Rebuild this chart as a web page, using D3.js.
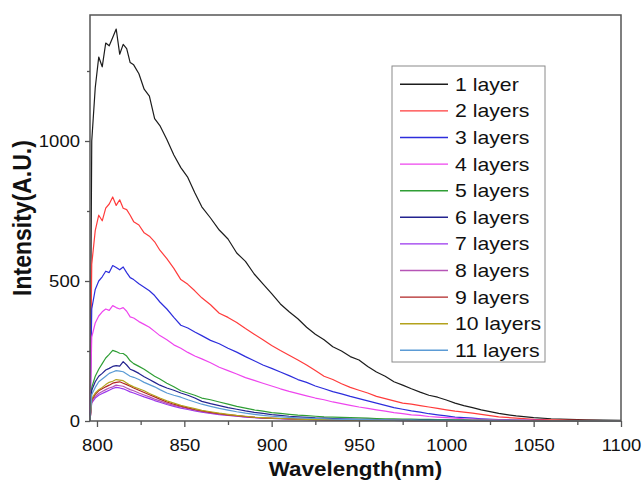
<!DOCTYPE html>
<html>
<head>
<meta charset="utf-8">
<script src="https://cdn.jsdelivr.net/npm/d3@7"></script>
<style>
body { margin: 0; background: #fff; }
svg text { font-family: "Liberation Sans", Arial, sans-serif; fill: #111; }
</style>
</head>
<body>
<div id="chart"></div>
<script>
// PL spectra per number of layers

var wavelengths = [796, 797, 799, 801, 803, 805, 807, 809, 811, 813, 815, 817, 819, 821, 824, 827, 830, 833, 836,
    840, 844, 848, 852, 856, 860, 865, 870, 875, 880, 885, 890, 895, 900, 905, 910, 915, 920, 925, 930, 935,
    940, 945, 950, 955, 960, 965, 970, 975, 980, 985, 990, 995, 1000, 1005, 1010, 1015, 1020, 1030, 1040,
    1050, 1060, 1070, 1080, 1090, 1100];

var layer1 = [0, 1000, 1190, 1300, 1265, 1350, 1340, 1370, 1400, 1310, 1345, 1330, 1280, 1272, 1240, 1185, 1160, 1080, 1055,
    1005, 950, 905, 870, 815, 765, 725, 682, 650, 600, 570, 525, 490, 455, 418, 390, 365, 335, 310, 290, 265,
    250, 230, 218, 195, 175, 160, 140, 128, 115, 103, 92, 85, 75, 64, 55, 48, 40, 27, 18,
    12, 8, 6, 4, 3, 2];
var layer2 = [0, 560, 680, 735, 715, 760, 775, 800, 770, 790, 760, 755, 735, 712, 700, 672, 660, 640, 610,
    580, 545, 505, 488, 465, 440, 415, 385, 370, 352, 330, 310, 290, 270, 252, 235, 218, 200, 180, 160, 148,
    133, 120, 110, 100, 88, 80, 72, 64, 60, 55, 50, 45, 40, 35, 32, 28, 24, 15, 10,
    6, 4, 3, 2, 1, 1];
var layer3 = [0, 400, 470, 500, 515, 535, 530, 555, 548, 540, 550, 530, 512, 505, 490, 478, 465, 448, 425,
    400, 370, 342, 332, 318, 305, 288, 276, 260, 246, 230, 215, 200, 188, 175, 162, 148, 138, 125, 115, 105,
    97, 88, 80, 72, 64, 56, 48, 42, 36, 32, 26, 22, 18, 14, 12, 10, 8, 5, 3,
    2, 1, 1, 1, 0, 0];
var layer4 = [0, 300, 350, 375, 390, 400, 395, 412, 405, 400, 405, 392, 372, 368, 355, 345, 335, 320, 305,
    290, 272, 260, 245, 232, 222, 208, 192, 180, 168, 155, 145, 135, 125, 115, 106, 98, 90, 82, 76, 68,
    62, 56, 50, 45, 40, 35, 30, 26, 22, 20, 16, 14, 12, 10, 8, 7, 6, 4, 3,
    2, 1, 1, 1, 0, 0];
var layer5 = [0, 120, 160, 185, 205, 225, 238, 252, 248, 242, 241, 232, 215, 205, 195, 185, 172, 160, 150,
    135, 122, 108, 100, 92, 82, 76, 68, 60, 52, 46, 40, 35, 30, 27, 24, 21, 19, 17, 15, 14,
    13, 12, 11, 10, 9, 8, 8, 7, 7, 6, 6, 5, 5, 4, 4, 3, 3, 2, 2,
    1, 1, 1, 1, 0, 0];
var layer6 = [0, 110, 140, 160, 170, 182, 188, 195, 198, 196, 212, 200, 185, 180, 170, 158, 148, 138, 128,
    118, 110, 100, 92, 82, 70, 62, 55, 48, 42, 36, 31, 27, 23, 20, 17, 15, 13, 11, 10, 9,
    8, 7, 6, 6, 5, 5, 4, 4, 3, 3, 3, 2, 2, 2, 2, 1, 1, 1, 1,
    0, 0, 0, 0, 0, 0];
var layer7 = [0, 65, 82, 92, 98, 104, 110, 116, 120, 118, 115, 110, 104, 100, 93, 86, 80, 73, 67,
    59, 52, 46, 41, 36, 32, 27, 23, 20, 17, 14, 12, 10, 9, 8, 7, 6, 5, 5, 4, 4,
    3, 3, 3, 2, 2, 2, 2, 1, 1, 1, 1, 1, 1, 1, 0, 0, 0, 0, 0,
    0, 0, 0, 0, 0, 0];
var layer8 = [0, 70, 88, 98, 105, 112, 118, 122, 128, 126, 124, 118, 112, 108, 100, 93, 86, 78, 72,
    63, 56, 50, 44, 39, 34, 29, 25, 21, 18, 15, 13, 11, 9, 8, 7, 6, 6, 5, 4, 4,
    3, 3, 3, 2, 2, 2, 2, 1, 1, 1, 1, 1, 1, 1, 0, 0, 0, 0, 0,
    0, 0, 0, 0, 0, 0];
var layer9 = [0, 75, 95, 108, 115, 122, 128, 135, 138, 140, 135, 130, 124, 118, 110, 102, 94, 86, 78,
    68, 60, 53, 47, 41, 36, 31, 26, 22, 19, 16, 13, 11, 10, 9, 8, 7, 6, 5, 5, 4,
    4, 3, 3, 3, 2, 2, 2, 2, 1, 1, 1, 1, 1, 1, 1, 0, 0, 0, 0,
    0, 0, 0, 0, 0, 0];
var layer10 = [0, 80, 100, 112, 120, 130, 138, 142, 148, 146, 144, 136, 128, 122, 115, 108, 98, 90, 82,
    72, 64, 56, 50, 44, 38, 33, 28, 24, 20, 17, 14, 12, 10, 9, 8, 7, 6, 5, 5, 4,
    4, 3, 3, 3, 2, 2, 2, 2, 1, 1, 1, 1, 1, 1, 1, 0, 0, 0, 0,
    0, 0, 0, 0, 0, 0];
var layer11 = [0, 95, 120, 140, 150, 160, 170, 175, 180, 178, 176, 168, 160, 156, 148, 138, 130, 122, 112,
    100, 92, 85, 76, 68, 60, 52, 45, 39, 33, 28, 24, 20, 17, 15, 13, 11, 10, 9, 8, 7,
    6, 6, 5, 5, 4, 4, 3, 3, 3, 2, 2, 2, 2, 1, 1, 1, 1, 1, 0,
    0, 0, 0, 0, 0, 0];

var seriesNames = ["1 layer", "2 layers", "3 layers", "4 layers", "5 layers", "6 layers",
    "7 layers", "8 layers", "9 layers", "10 layers", "11 layers"];
var seriesValues = [layer1, layer2, layer3, layer4, layer5, layer6, layer7, layer8, layer9, layer10, layer11];
var seriesColors = ["#1c1c1c", "#ff3b3b", "#2d2ddc", "#ee45ee", "#2f9e35", "#23238f",
    "#9a35ee", "#b655b6", "#b02424", "#b3a21c", "#5b9bd5"];

var xTicks = [800, 850, 900, 950, 1000, 1050, 1100];
var xMinorTicks = [825, 875, 925, 975, 1025, 1075];
var yTicks = [0, 500, 1000];
var yMinorTicks = [250, 750, 1250];

var width = 643, height = 481;
var plot = {left: 90, right: 621, top: 15, bottom: 421};
var frameColor = "#555";

var svg = d3.select("#chart")
    .append("svg")
    .attr("width", width)
    .attr("height", height);

var x = d3.scaleLinear()
    .domain([796, 1100])
    .range([plot.left, plot.right]);

var y = d3.scaleLinear()
    .domain([0, 1450])
    .range([plot.bottom, plot.top]);

// curves, 1 layer drawn first
var line = d3.line()
    .x(function(d) { return x(d[0]); })
    .y(function(d) { return y(d[1]); });

var curves = svg.append("g")
    .attr("class", "curves");

seriesValues.forEach(function(vals, i) {
    var pts = wavelengths.map(function(w, j) { return [w, vals[j]]; });
    curves.append("path")
        .datum(pts)
        .attr("fill", "none")
        .attr("stroke", seriesColors[i])
        .attr("stroke-width", 1.2)
        .attr("stroke-linejoin", "round")
        .attr("d", line);
});

// frame
svg.append("rect")
    .attr("x", plot.left)
    .attr("y", plot.top)
    .attr("width", plot.right - plot.left)
    .attr("height", plot.bottom - plot.top)
    .attr("fill", "none")
    .attr("stroke", frameColor)
    .attr("stroke-width", 1.5);

var fmt = d3.format("d");

// x axis
var xAxis = svg.append("g")
    .attr("transform", "translate(0," + plot.bottom + ")")
    .call(d3.axisBottom(x).tickValues(xTicks).tickSize(6).tickPadding(12).tickFormat(fmt));
var xMinor = svg.append("g")
    .attr("transform", "translate(0," + plot.bottom + ")")
    .call(d3.axisBottom(x).tickValues(xMinorTicks).tickSize(4).tickFormat(""));

// y axis
var yAxis = svg.append("g")
    .attr("transform", "translate(" + plot.left + ",0)")
    .call(d3.axisLeft(y).tickValues(yTicks).tickSize(5).tickPadding(4).tickFormat(fmt));
var yMinor = svg.append("g")
    .attr("transform", "translate(" + plot.left + ",0)")
    .call(d3.axisLeft(y).tickValues(yMinorTicks).tickSize(3).tickFormat(""));

[xAxis, xMinor, yAxis, yMinor].forEach(function(g) {
    g.select(".domain").remove();
    g.selectAll(".tick line").attr("stroke", frameColor).attr("stroke-width", 1.3);
    g.selectAll(".tick text")
        .attr("fill", "#111")
        .style("font-family", "'Liberation Sans', Arial, sans-serif")
        .style("font-size", "16.5px")
        .attr("transform", "scale(1.12,1)");
});

// axis titles
svg.append("text")
    .attr("transform", "translate(" + ((plot.left + plot.right) / 2) + ",476) scale(1.15,1)")
    .attr("text-anchor", "middle")
    .style("font-size", "19.5px")
    .style("font-weight", "bold")
    .text("Wavelength(nm)");

svg.append("text")
    .attr("transform", "translate(31," + ((plot.top + plot.bottom) / 2) + ") rotate(-90) scale(1,1.15)")
    .attr("text-anchor", "middle")
    .style("font-size", "23px")
    .style("font-weight", "bold")
    .text("Intensity(A.U.)");

// legend
var legend = svg.append("g")
    .attr("class", "legend");

legend.append("rect")
    .attr("x", 392)
    .attr("y", 66)
    .attr("width", 153)
    .attr("height", 296)
    .attr("fill", "#fff")
    .attr("stroke", "#8a8a8a")
    .attr("stroke-width", 1);

var rowH = 26.6;
var rows = legend.selectAll(".row")
    .data(seriesNames)
    .enter()
    .append("g")
    .attr("class", "row")
    .attr("transform", function(d, i) {
        return "translate(0," + (84.3 + i * rowH) + ")";
    });

rows.append("line")
    .attr("x1", 400)
    .attr("x2", 448)
    .attr("stroke", function(d, i) { return seriesColors[i]; })
    .attr("stroke-width", 1.4);

rows.append("text")
    .attr("transform", "translate(455,6.5) scale(1.18,1)")
    .style("font-size", "18px")
    .text(function(d) { return d; });
</script>
</body>
</html>
